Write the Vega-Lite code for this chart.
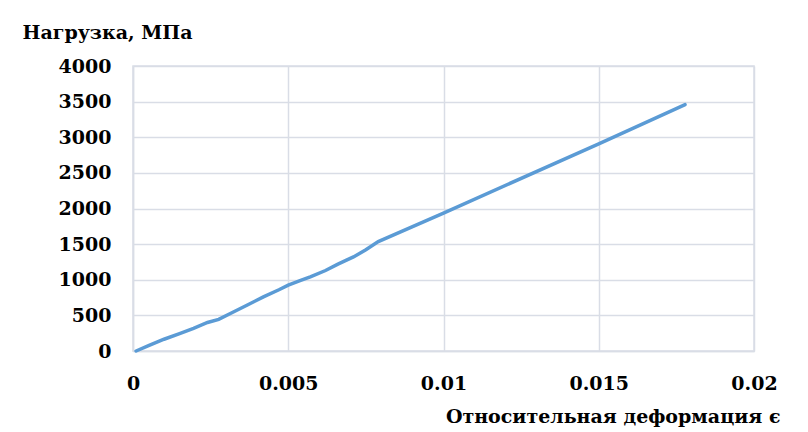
{
  "$schema": "https://vega.github.io/schema/vega-lite/v6.json",
  "width": 621,
  "height": 285,
  "autosize": {"type": "none"},
  "padding": {"left": 133, "top": 66, "right": 54, "bottom": 81},
  "background": "white",
  "config": {
    "view": {"stroke": "#d9dde6", "strokeWidth": 1.5},
    "font": "DejaVu Serif",
    "axis": {"labelFont": "DejaVu Serif", "titleFont": "DejaVu Serif"}
  },
  "data": {
    "values": [
      {"e": 0.0001, "s": 0},
      {"e": 0.0005, "s": 75},
      {"e": 0.001, "s": 165},
      {"e": 0.0015, "s": 245},
      {"e": 0.00195, "s": 318},
      {"e": 0.0024, "s": 400},
      {"e": 0.00276, "s": 444},
      {"e": 0.0032, "s": 540},
      {"e": 0.0037, "s": 650},
      {"e": 0.0042, "s": 760},
      {"e": 0.0047, "s": 860},
      {"e": 0.005, "s": 924},
      {"e": 0.0054, "s": 990},
      {"e": 0.00571, "s": 1040},
      {"e": 0.0062, "s": 1130},
      {"e": 0.0066, "s": 1220},
      {"e": 0.0071, "s": 1320},
      {"e": 0.0075, "s": 1420},
      {"e": 0.0079, "s": 1535},
      {"e": 0.01, "s": 1936},
      {"e": 0.015, "s": 2908},
      {"e": 0.01778, "s": 3458}
    ]
  },
  "mark": {"type": "line", "color": "#5b9bd5", "strokeWidth": 3.5, "strokeCap": "round"},
  "encoding": {
    "x": {
      "field": "e",
      "type": "quantitative",
      "scale": {"domain": [0, 0.02], "nice": false, "zero": false},
      "axis": {
        "values": [0, 0.005, 0.01, 0.015, 0.02],
        "format": "~g",
        "labelFontWeight": "bold",
        "labelFontSize": 19,
        "labelColor": "#000000",
        "labelPadding": 23,
        "labelFlush": false,
        "ticks": false,
        "domainColor": "#d9dde6",
        "domainWidth": 1.5,
        "gridColor": "#d9dde6",
        "gridWidth": 1.5,
        "title": "Относительная деформация ϵ",
        "titleFontWeight": "bold",
        "titleFontSize": 19,
        "titleColor": "#000000",
        "titleAnchor": null,
        "titleAlign": "right",
        "titleBaseline": "middle",
        "titleX": 647,
        "titleY": 65
      }
    },
    "y": {
      "field": "s",
      "type": "quantitative",
      "scale": {"domain": [0, 4000], "nice": false},
      "axis": {
        "values": [0, 500, 1000, 1500, 2000, 2500, 3000, 3500, 4000],
        "format": "d",
        "labelFontWeight": "bold",
        "labelFontSize": 19,
        "labelColor": "#000000",
        "labelPadding": 22,
        "ticks": false,
        "domainColor": "#d9dde6",
        "domainWidth": 1.5,
        "gridColor": "#d9dde6",
        "gridWidth": 1.5,
        "title": "Нагрузка, МПа",
        "titleFontWeight": "bold",
        "titleFontSize": 19,
        "titleColor": "#000000",
        "titleAngle": 0,
        "titleAlign": "left",
        "titleBaseline": "middle",
        "titleAnchor": null,
        "titleX": -111,
        "titleY": -34
      }
    }
  }
}
